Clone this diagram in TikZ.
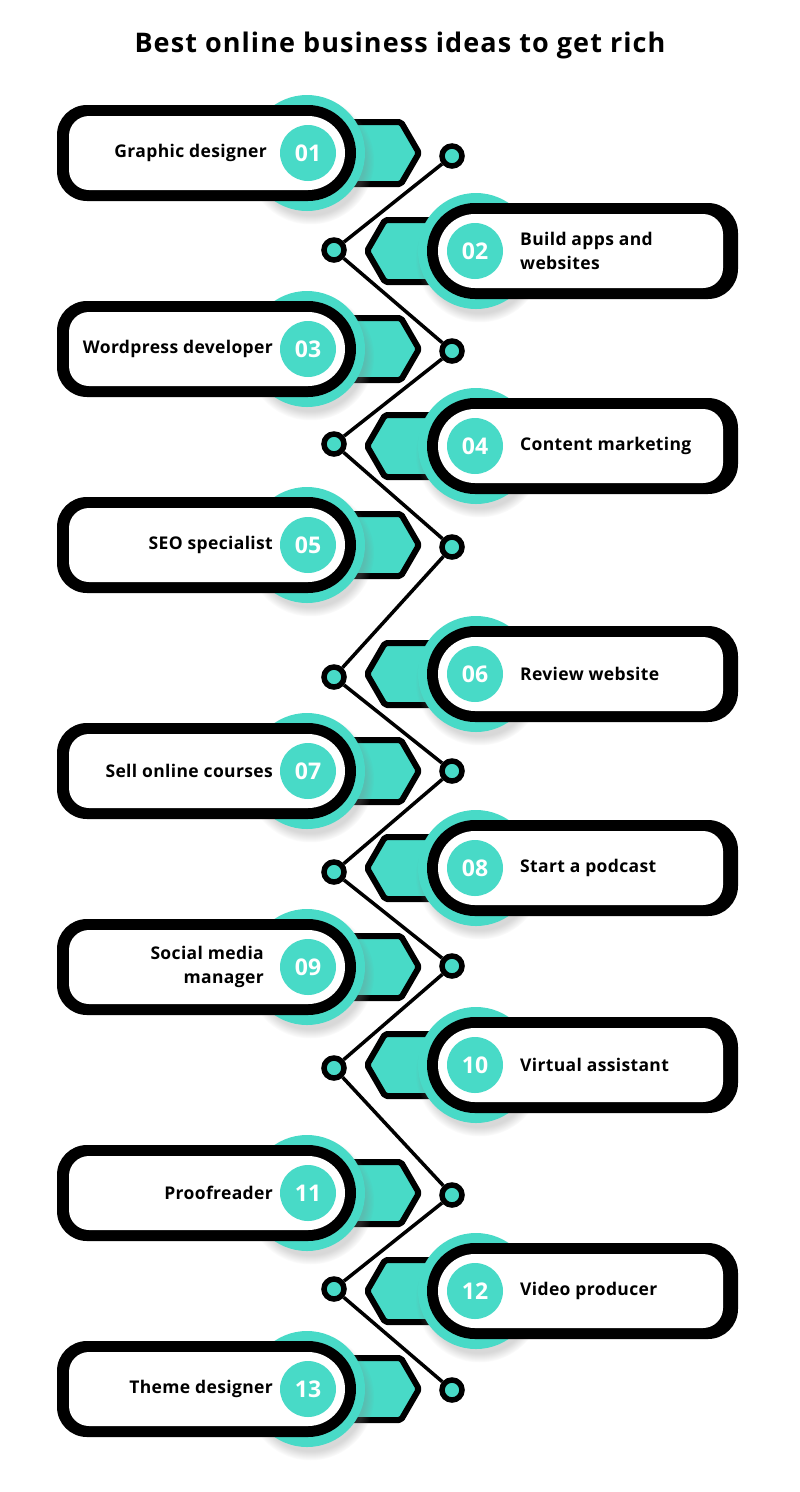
\documentclass[tikz,border=0pt]{standalone}
\usepackage{fontspec}
\setmainfont{Open Sans}
\newfontfamily\lblfont{Open Sans}[LetterSpace=2]
\newfontfamily\ttlfont{Open Sans}[LetterSpace=4]
\usetikzlibrary{shadows,backgrounds}
\definecolor{teal1}{RGB}{72,218,199}
\newcommand{\LItem}[5]{%
 \begin{scope}[shift={(0,-#2)}]
  \draw[tab] (330,31) -- (401,31) -- (419,0) -- (401,-31) -- (330,-31) -- cycle;
  \path[halo] (307,0) circle[radius=58pt];
  \fill[black] (308,-48) -- (87,-48) arc[start angle=270,end angle=180,radius=30pt] -- (57,18) arc[start angle=180,end angle=90,radius=30pt] -- (308,48) arc[start angle=90,end angle=-90,radius=48pt] -- cycle;
  \fill[white] (308,-37) -- (89,-37) arc[start angle=270,end angle=180,radius=20pt] -- (69,17) arc[start angle=180,end angle=90,radius=20pt] -- (308,37) arc[start angle=90,end angle=-90,radius=37pt] -- cycle;
  \node[numc] (n#1) at (308,0) {#3};
  \node[lbl, anchor=east, align=right] (t#1) at (#5,0) {#4};
 \end{scope}}
\newcommand{\RItem}[4]{%
 \begin{scope}[shift={(0,-#2)}]
  \draw[tab] (452,31) -- (385,31) -- (367,0) -- (385,-31) -- (452,-31) -- cycle;
  \path[halo] (476,0) circle[radius=58pt];
  \fill[black] (475,48) -- (708,48) arc[start angle=90,end angle=0,radius=30pt] -- (738,-18) arc[start angle=0,end angle=-90,radius=30pt] -- (475,-48) arc[start angle=270,end angle=90,radius=48pt] -- cycle;
  \fill[white] (475,37) -- (703,37) arc[start angle=90,end angle=0,radius=20pt] -- (723,-17) arc[start angle=0,end angle=-90,radius=20pt] -- (475,-37) arc[start angle=270,end angle=90,radius=37pt] -- cycle;
  \node[numc] (n#1) at (475,0) {#3};
  \node[lbl, anchor=west, align=left] (t#1) at (520,0) {#4};
 \end{scope}}
\begin{document}
\begin{tikzpicture}[x=1pt,y=1pt,
  conn/.style={line width=3.5pt, draw=black},
  dot/.style={circle, fill=teal1, draw=black, line width=5.5pt, minimum size=20pt, inner sep=0pt},
  tab/.style={fill=teal1, draw=black, line width=6pt, line join=round, rounded corners=2pt},
  halo/.style={fill=teal1, circular drop shadow={shadow xshift=3pt, shadow yshift=-7pt, opacity=0.3}},
  numc/.style={circle, fill=teal1, minimum size=56pt, inner sep=0pt, text=white, font=\fontsize{23}{23}\selectfont\bfseries},
  lbl/.style={font=\lblfont\fontsize{17.5}{24}\selectfont\bfseries, inner sep=0pt},
  ttl/.style={font=\ttlfont\fontsize{27}{30}\selectfont\bfseries}]
\useasboundingbox (0,0) rectangle (800,-1492);
\node[ttl] (title) at (400,-45) {Best online business ideas to get rich};
\LItem{1}{153}{01}{Graphic designer}{267}
\RItem{2}{251}{02}{Build apps and\\websites}
\LItem{3}{349}{03}{Wordpress developer}{273}
\RItem{4}{446}{04}{Content marketing}
\LItem{5}{545}{05}{SEO specialist}{273}
\RItem{6}{674}{06}{Review website}
\LItem{7}{771}{07}{Sell online courses}{273}
\RItem{8}{868}{08}{Start a podcast}
\LItem{9}{967}{09}{Social media\\manager}{264}
\RItem{10}{1065}{10}{Virtual assistant}
\LItem{11}{1193}{11}{Proofreader}{273}
\RItem{12}{1291}{12}{Video producer}
\LItem{13}{1389}{13}{Theme designer}{273}
\node[dot] (d1) at (452,-156) {};
\node[dot] (d2) at (334,-250) {};
\node[dot] (d3) at (452,-351) {};
\node[dot] (d4) at (334,-444) {};
\node[dot] (d5) at (452,-547) {};
\node[dot] (d6) at (334,-677) {};
\node[dot] (d7) at (452,-771) {};
\node[dot] (d8) at (334,-872) {};
\node[dot] (d9) at (452,-966) {};
\node[dot] (d10) at (334,-1068) {};
\node[dot] (d11) at (452,-1195) {};
\node[dot] (d12) at (334,-1289) {};
\node[dot] (d13) at (452,-1390) {};
\begin{pgfonlayer}{background}
\fill[white] (0,0) rectangle (800,-1492);
\draw[conn] (d1) -- (d2) -- (d3) -- (d4) -- (d5) -- (d6) -- (d7) -- (d8) -- (d9) -- (d10) -- (d11) -- (d12) -- (d13);
\end{pgfonlayer}
\end{tikzpicture}
\end{document}
